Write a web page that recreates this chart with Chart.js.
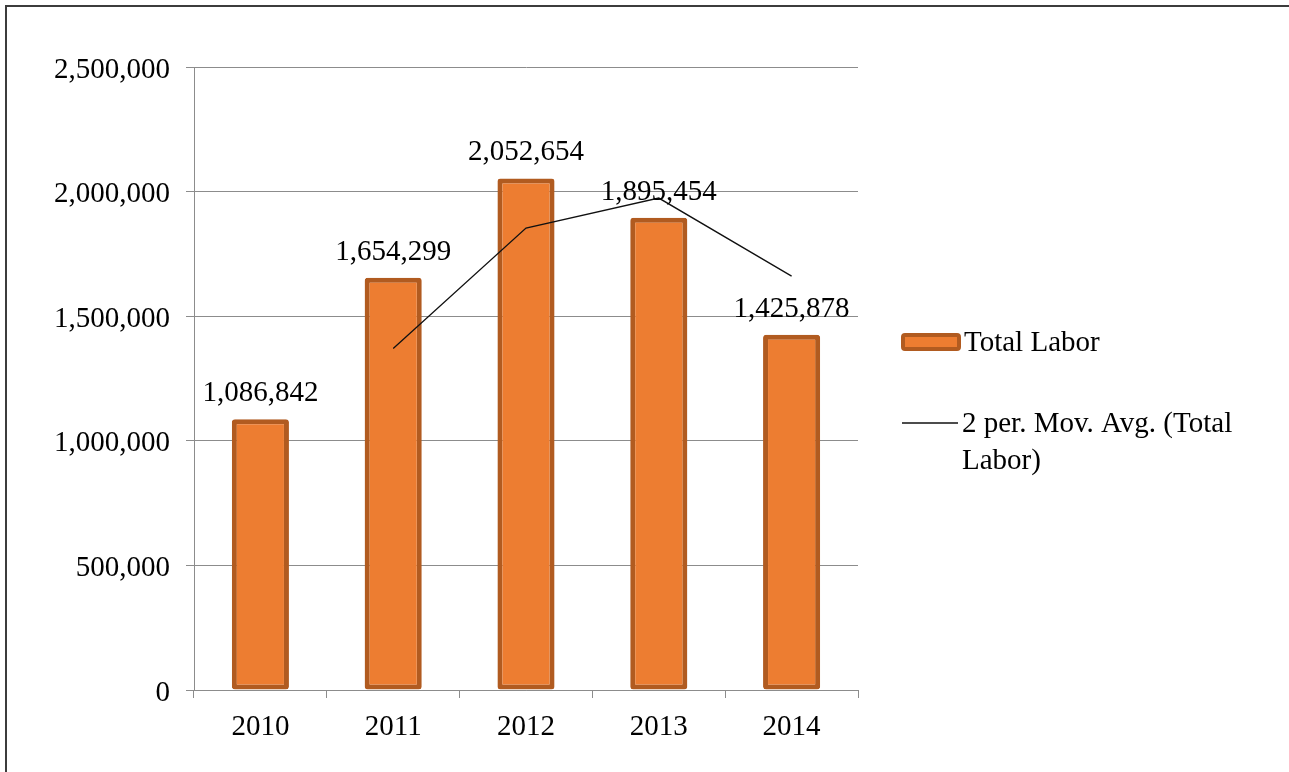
<!DOCTYPE html>
<html>
<head>
<meta charset="utf-8">
<title>Total Labor</title>
<script src="https://cdn.jsdelivr.net/npm/chart.js@4.4.1/dist/chart.umd.min.js"></script>
<style>
  html, body { margin: 0; padding: 0; background: #fff; }
  #wrap { position: relative; width: 1289px; height: 772px; overflow: hidden; }
  #frame {
    position: absolute; left: 5px; top: 5px; width: 1300px; height: 800px;
    border-left: 2px solid #3c3c3c; border-top: 2px solid #3c3c3c;
  }
  #grafico { position: absolute; left: 0; top: 0; }
</style>
</head>
<body>
<div id="wrap">
  <div id="frame"></div>
  <canvas id="grafico" width="1289" height="772"></canvas>
</div>
<script>
// -------------------------
// Dados
// -------------------------
const anos = ["2010", "2011", "2012", "2013", "2014"];
const totalLabor = [1086842, 1654299, 2052654, 1895454, 1425878];
const mediaMovel = [null, 1370571, 1853477, 1974054, 1660666];
const ticksY = [0, 500000, 1000000, 1500000, 2000000, 2500000];

const FONTE = "'Liberation Serif', 'Times New Roman', serif";
const TAM = 29;
const LARANJA = "#ED7D31";
const BORDA = "#B15B20";

// -------------------------
// Rótulos de valor acima das barras
// -------------------------
const rotulosBarras = {
  id: "rotulosBarras",
  afterDatasetsDraw(chart) {
    const ctx = chart.ctx;
    const meta = chart.getDatasetMeta(0);
    ctx.save();
    ctx.font = TAM + "px " + FONTE;
    ctx.fillStyle = "#000";
    ctx.textAlign = "center";
    ctx.textBaseline = "alphabetic";
    meta.data.forEach((bar, i) => {
      ctx.fillText(totalLabor[i].toLocaleString("en-US"), bar.x, bar.y - 18);
    });
    ctx.restore();
  }
};

// -------------------------
// Legenda à direita
// -------------------------
const legendaLateral = {
  id: "legendaLateral",
  afterDraw(chart) {
    const ctx = chart.ctx;
    const ds = chart.data.datasets;
    ctx.save();
    ctx.font = TAM + "px " + FONTE;
    ctx.textBaseline = "middle";
    ctx.textAlign = "left";

    // barra
    ctx.beginPath();
    ctx.roundRect(903, 335, 56, 14, 2);
    ctx.fillStyle = LARANJA;
    ctx.fill();
    ctx.lineWidth = 4;
    ctx.strokeStyle = BORDA;
    ctx.stroke();
    ctx.fillStyle = "#000";
    ctx.fillText(ds[0].label, 964, 343);

    // linha
    ctx.beginPath();
    ctx.moveTo(902, 423);
    ctx.lineTo(958, 423);
    ctx.lineWidth = 1.3;
    ctx.strokeStyle = "#111";
    ctx.stroke();
    const linhas = ["2 per. Mov. Avg. (Total", "Labor)"];
    linhas.forEach((t, i) => ctx.fillText(t, 962, 424 + i * 37));
    ctx.restore();
  }
};

// -------------------------
// Gráfico
// -------------------------
new Chart(document.getElementById("grafico").getContext("2d"), {
  data: {
    labels: anos,
    datasets: [
      {
        type: "bar",
        label: "Total Labor",
        data: totalLabor,
        backgroundColor: LARANJA,
        borderColor: BORDA,
        borderWidth: 5,
        borderRadius: 3,
        borderSkipped: false,
        barPercentage: 0.43,
        categoryPercentage: 1,
        order: 2
      },
      {
        type: "line",
        label: "2 per. Mov. Avg. (Total Labor)",
        data: mediaMovel,
        borderColor: "#111",
        borderWidth: 1.3,
        pointRadius: 0,
        tension: 0,
        fill: false,
        order: 1
      }
    ]
  },
  options: {
    responsive: false,
    animation: false,
    events: [],
    layout: { padding: { left: 0, right: 431, top: 67, bottom: 0 } },
    plugins: {
      legend: { display: false },
      tooltip: { enabled: false }
    },
    scales: {
      x: {
        offset: true,
        grid: {
          offset: true,
          drawOnChartArea: false,
          drawTicks: true,
          tickLength: 8,
          color: "#8c8c8c"
        },
        border: { color: "#8c8c8c", width: 1 },
        ticks: {
          color: "#000",
          padding: 12,
          font: { family: FONTE, size: TAM }
        },
        afterFit(scale) { scale.height = 82; }
      },
      y: {
        min: 0,
        max: 2500000,
        afterBuildTicks(scale) { scale.ticks = ticksY.map(v => ({ value: v })); },
        grid: { color: "#8c8c8c", tickLength: 8 },
        border: { color: "#8c8c8c", width: 1 },
        ticks: {
          color: "#000",
          padding: 16,
          labelOffset: 3,
          font: { family: FONTE, size: TAM },
          callback: v => v.toLocaleString("en-US")
        },
        afterFit(scale) { scale.width = 194; }
      }
    }
  },
  plugins: [rotulosBarras, legendaLateral]
});
</script>
</body>
</html>
